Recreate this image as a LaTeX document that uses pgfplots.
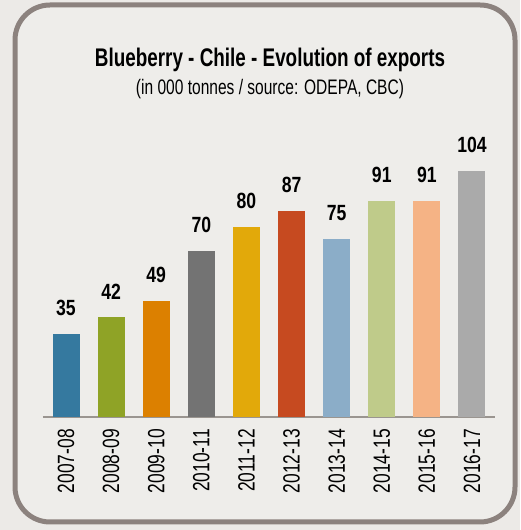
\documentclass[border=0pt]{standalone}
\usepackage{pgfplots}
\pgfplotsset{compat=1.18}
\usepackage{fontspec}
\setmainfont{Liberation Sans}[FakeStretch=0.74]
\newfontfamily\valfont{Liberation Sans}[FakeStretch=0.8]
\definecolor{bgout}{HTML}{ECEAE7}
\definecolor{bgin}{HTML}{EEEDEA}
\definecolor{framec}{HTML}{8C827E}
\definecolor{axc}{HTML}{9A9590}
\definecolor{c1}{HTML}{35799F}
\definecolor{c2}{HTML}{8FA326}
\definecolor{c3}{HTML}{DC8000}
\definecolor{c4}{HTML}{737373}
\definecolor{c5}{HTML}{E2A90A}
\definecolor{c6}{HTML}{C64A20}
\definecolor{c7}{HTML}{8BADC8}
\definecolor{c8}{HTML}{BFCB8A}
\definecolor{c9}{HTML}{F5B385}
\definecolor{c10}{HTML}{AAAAAA}
\begin{document}
\begin{tikzpicture}
\fill[bgout] (0pt,0pt) rectangle (520pt,530pt);
\draw[line width=5pt, framec, fill=bgin, rounded corners=35pt] (15pt,8pt) rectangle (515pt,525pt);
\node[font=\bfseries\fontsize{25.5}{28}\selectfont, inner sep=0pt] at (270pt,470pt) {Blueberry - Chile - Evolution of exports};
\node[font=\fontsize{21}{24}\selectfont, inner sep=0pt] at (270pt,441pt) {(in 000 tonnes / source: ODEPA, CBC)};
\begin{axis}[
  at={(66pt,113pt)}, anchor=origin,
  scale only axis, width=452pt, height=284.4pt,
  xmin=-0.51, xmax=9.51, ymin=0, ymax=120,
  axis y line=none, axis x line*=bottom,
  x axis line style={axc, line width=2pt, -},
  xtick={0,...,9},
  xticklabels={2007-08,2008-09,2009-10,2010-11,2011-12,2012-13,2013-14,2014-15,2015-16,2016-17},
  major tick length=0pt,
  xticklabel style={rotate=90, anchor=east, inner sep=0pt, font=\fontsize{23.5}{24}\selectfont},
  xticklabel shift=12pt,
  ybar, bar width=27pt, bar shift=0pt,
  nodes near coords,
  /pgf/number format/assume math mode=true,
  every node near coord/.append style={font=\valfont\bfseries\fontsize{22}{24}\selectfont, anchor=south, inner sep=0pt, yshift=18pt, black},
  clip=false,
]
\addplot[fill=c1, draw=none] coordinates {(0,35)};
\addplot[fill=c2, draw=none] coordinates {(1,42)};
\addplot[fill=c3, draw=none] coordinates {(2,49)};
\addplot[fill=c4, draw=none] coordinates {(3,70)};
\addplot[fill=c5, draw=none] coordinates {(4,80)};
\addplot[fill=c6, draw=none] coordinates {(5,87)};
\addplot[fill=c7, draw=none] coordinates {(6,75)};
\addplot[fill=c8, draw=none] coordinates {(7,91)};
\addplot[fill=c9, draw=none] coordinates {(8,91)};
\addplot[fill=c10, draw=none] coordinates {(9,104)};
\end{axis}
\end{tikzpicture}
\end{document}
